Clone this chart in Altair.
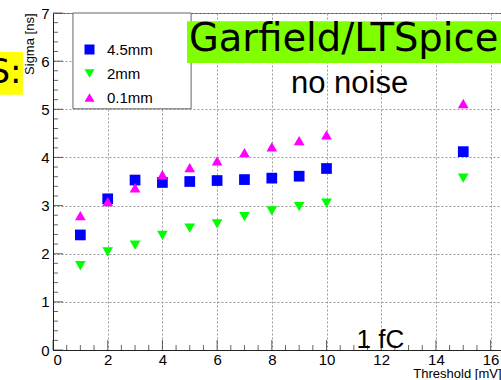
import altair as alt
import pandas as pd
import numpy as np

thresholds = [1, 2, 3, 4, 5, 6, 7, 8, 9, 10, 15]
sigma_45mm = [2.39, 3.14, 3.53, 3.48, 3.50, 3.52, 3.54, 3.57, 3.61, 3.77, 4.12]
sigma_2mm = [1.75, 2.04, 2.18, 2.38, 2.53, 2.62, 2.77, 2.89, 2.98, 3.05, 3.57]
sigma_01mm = [2.79, 3.08, 3.37, 3.64, 3.79, 3.93, 4.10, 4.22, 4.35, 4.47, 5.12]
series_names = ["4.5mm", "2mm", "0.1mm"]
series_colors = ["#0000ff", "#00ff00", "#ff00ff"]
series_shapes = ["square", "triangle-down", "triangle-up"]

rows = []
for name, vals in zip(series_names, [sigma_45mm, sigma_2mm, sigma_01mm]):
    for t, v in zip(thresholds, vals):
        rows.append({"threshold": t, "sigma": v, "series": name})
df = pd.DataFrame(rows)

FONT = "Liberation Sans"
XMAX = 16.38
xs = alt.Scale(domain=[0, XMAX], nice=False, zero=False)
ys = alt.Scale(domain=[0, 7], nice=False, zero=False)

x_major = list(range(0, 17, 2))
x_minor = [v for v in np.arange(0, 16.5, 0.5).tolist() if v not in x_major]
y_major = list(range(0, 8))
y_minor = [round(v, 1) for v in np.arange(0, 7.0, 0.2).tolist() if abs(v - round(v)) > 1e-6]

xaxis = alt.Axis(values=x_major, format="d", tickSize=0, labelPadding=2,
                 labelFont=FONT, labelFontSize=15, labelColor="#000",
                 grid=True, gridDash=[2, 2], gridColor="#999",
                 domainColor="#222", title="Threshold [mV]", titleFont=FONT,
                 titleFontSize=13, titleFontWeight="normal", titleAnchor="end",
                 titleAlign="right", titleX=448, titleY=27, titleBaseline="alphabetic")
yaxis = alt.Axis(values=y_major, format="d", tickSize=0, labelPadding=4,
                 labelFont=FONT, labelFontSize=15, labelColor="#000",
                 grid=True, gridDash=[2, 2], gridColor="#999",
                 domainColor="#222", title="Sigma [ns]", titleFont=FONT,
                 titleFontSize=13, titleFontWeight="normal", titleAngle=-90,
                 titleAlign="right", titleX=-20, titleY=0, titleBaseline="alphabetic")

legend = alt.Legend(orient="none", legendX=20, legendY=0, title=".",
                    titleColor="white", titleFontSize=18, titlePadding=5, padding=6,
                    labelFont=FONT, labelFontSize=15, labelColor="#000",
                    symbolSize=100, symbolOffset=3, labelOffset=10,
                    rowPadding=8, symbolStrokeWidth=0)

# legend frame (white box with grey border), in data units
legend_box = alt.Chart(pd.DataFrame({"a": [0]})).mark_rect(
    fill="white", stroke="#666", strokeWidth=1).encode(
    x=alt.datum(0.73), x2=alt.datum(5.05), y=alt.datum(7.0), y2=alt.datum(5.01))

points = alt.Chart(df).mark_point(filled=True, size=115, opacity=1).encode(
    x=alt.X("threshold:Q", scale=xs, axis=xaxis),
    y=alt.Y("sigma:Q", scale=ys, axis=yaxis),
    color=alt.Color("series:N", scale=alt.Scale(domain=series_names, range=series_colors), legend=legend),
    shape=alt.Shape("series:N", scale=alt.Scale(domain=series_names, range=series_shapes), legend=legend),
)

xt_major = alt.Chart(pd.DataFrame({"v": x_major})).mark_tick(
    orient="vertical", size=10, thickness=1, color="#222", yOffset=-5).encode(
    x=alt.X("v:Q", scale=xs), y=alt.datum(0))
xt_minor = alt.Chart(pd.DataFrame({"v": x_minor})).mark_tick(
    orient="vertical", size=5, thickness=1, color="#222", yOffset=-2.5).encode(
    x=alt.X("v:Q", scale=xs), y=alt.datum(0))
yt_major = alt.Chart(pd.DataFrame({"v": y_major})).mark_tick(
    orient="horizontal", size=10, thickness=1, color="#222", xOffset=5).encode(
    y=alt.Y("v:Q", scale=ys), x=alt.datum(0))
yt_minor = alt.Chart(pd.DataFrame({"v": y_minor})).mark_tick(
    orient="horizontal", size=5, thickness=1, color="#222", xOffset=2.5).encode(
    y=alt.Y("v:Q", scale=ys), x=alt.datum(0))

green_box = alt.Chart(pd.DataFrame({"a": [0]})).mark_rect(color="#7fff00").encode(
    x=alt.datum(4.90), x2=alt.datum(17.5), y=alt.datum(6.83), y2=alt.datum(5.96))
green_text = alt.Chart(pd.DataFrame({"a": [0]})).mark_text(
    text="Garfield/LTSpice", font="DejaVu Sans", fontSize=38.5, align="left",
    baseline="alphabetic", color="#000").encode(x=alt.datum(4.97), y=alt.datum(6.22))
yellow_box = alt.Chart(pd.DataFrame({"a": [0]})).mark_rect(color="#ffff00").encode(
    x=alt.datum(-2.2), x2=alt.datum(-1.10), y=alt.datum(6.19), y2=alt.datum(5.30))
yellow_text = alt.Chart(pd.DataFrame({"a": [0]})).mark_text(
    text="S:", font="DejaVu Sans", fontSize=34, align="right",
    baseline="alphabetic", color="#000").encode(x=alt.datum(-1.15), y=alt.datum(5.55))
noise_text = alt.Chart(pd.DataFrame({"a": [0]})).mark_text(
    text="no noise", font=FONT, fontSize=31, align="left",
    baseline="alphabetic", color="#000").encode(x=alt.datum(8.70), y=alt.datum(5.33))
fc_text = alt.Chart(pd.DataFrame({"a": [0]})).mark_text(
    text="1 fC", font=FONT, fontSize=26, align="left",
    baseline="alphabetic", color="#000").encode(x=alt.datum(11.10), y=alt.datum(0.05))

chart = alt.layer(
    xt_major, xt_minor, yt_major, yt_minor, legend_box,
    points, green_box, green_text, yellow_box, yellow_text, noise_text, fc_text
).properties(
    width=448, height=337,
    autosize=alt.AutoSizeParams(type="none"),
    padding={"left": 53, "top": 13, "right": 0, "bottom": 30},
    background="white",
).configure_view(stroke="#555", strokeWidth=1)

chart.save("out.html", embed_options={"renderer": "svg", "actions": False})
